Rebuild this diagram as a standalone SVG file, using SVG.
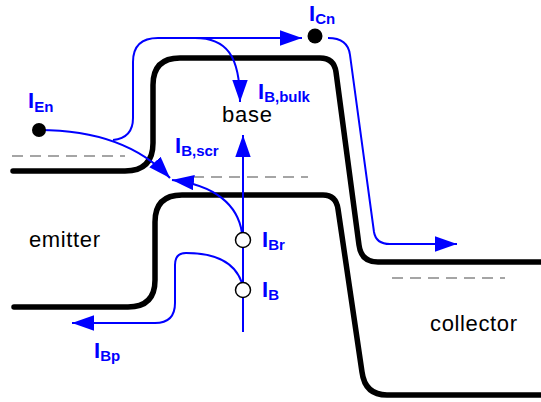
<svg xmlns="http://www.w3.org/2000/svg" width="541" height="402" viewBox="0 0 541 402">
<defs>
<style>
.band{fill:none;stroke:#000;stroke-width:5.5;stroke-linecap:round;stroke-linejoin:round}
.lvl{fill:none;stroke:#888;stroke-width:1.5;stroke-dasharray:11 7}
.cur{fill:none;stroke:#0000ff;stroke-width:2}
.arr{marker-end:url(#ah)}
.lbl{font-family:"Liberation Sans",Arial,sans-serif;font-weight:bold;font-size:22px;fill:#0000ff}
.sub{font-size:15px}
.reg{font-family:"Liberation Sans",Arial,sans-serif;font-size:22px;fill:#000}
.node{fill:#fff;stroke:#000;stroke-width:1.5}
</style>
<marker id="ah" markerUnits="userSpaceOnUse" markerWidth="22" markerHeight="16" viewBox="0 0 20 14" refX="20" refY="7" orient="auto">
<path d="M0,0 L20,7 L0,14 Z" fill="#0000ff"/>
</marker>
</defs>
<rect width="541" height="402" fill="#fff"/>
<g id="bands">
<path id="conduction-band" class="band" d="M13,171 H125 Q153,171 153,143 V85 Q153,58 180,58 H320 Q334,58 336,72 L359,245 Q361,262 378,262 H541"/>
<path id="valence-band" class="band" d="M14,307 H128 Q155,307 155,280 V222 Q155,195 182,195 H323 Q336,195 338,209 L362,372 Q365,395 387,395 H541"/>
</g>
<g id="levels">
<line class="lvl" x1="12" y1="156" x2="125" y2="156"/>
<line class="lvl" x1="193" y1="177" x2="308" y2="177"/>
<line class="lvl" x1="392" y1="278" x2="505" y2="278"/>
</g>
<g id="connectors">
<path class="cur arr" d="M39,130 Q125,130 170,178"/>
<path class="cur arr" d="M113,140 Q133,138 133,118 V62 Q133,38 158,38 H302"/>
<path class="cur arr" d="M195,38 C226,38 240,55 240,102"/>
<path class="cur arr" d="M328,38 Q348,38 350,55 L374,232 Q376,244 390,244 H457"/>
<path class="cur arr" d="M243,332 V135"/>
<path class="cur arr" d="M242,233 C238,205 215,185 172,180"/>
<path class="cur arr" d="M242,283 C235,262 215,253 186,253 Q175,253 175,265 V303 Q175,323 155,323 H72"/>
</g>
<g id="node-IEn">
<circle cx="39" cy="130" r="7" fill="#000"/>
<text class="lbl" x="28" y="108">I<tspan class="sub" dy="4">En</tspan></text>
</g>
<g id="node-ICn">
<circle cx="315" cy="36" r="7.5" fill="#000"/>
<text class="lbl" x="309" y="21">I<tspan class="sub" dy="3">Cn</tspan></text>
</g>
<g id="node-IBbulk">
<text class="lbl" x="258" y="99">I<tspan class="sub" dy="3">B,bulk</tspan></text>
</g>
<g id="node-IBscr">
<text class="lbl" x="175" y="153">I<tspan class="sub" dy="3">B,scr</tspan></text>
</g>
<g id="node-IBr">
<circle class="node" cx="243" cy="240" r="7.5"/>
<text class="lbl" x="262" y="247">I<tspan class="sub" dy="3">Br</tspan></text>
</g>
<g id="node-IB">
<circle class="node" cx="243" cy="290" r="7.5"/>
<text class="lbl" x="262" y="297">I<tspan class="sub" dy="3">B</tspan></text>
</g>
<g id="node-IBp">
<text class="lbl" x="94" y="358">I<tspan class="sub" dy="3">Bp</tspan></text>
</g>
<g id="regions">
<text class="reg" x="222" y="122" textLength="50">base</text>
<text class="reg" x="29" y="247" textLength="71">emitter</text>
<text class="reg" x="430" y="331" textLength="87">collector</text>
</g>
</svg>
